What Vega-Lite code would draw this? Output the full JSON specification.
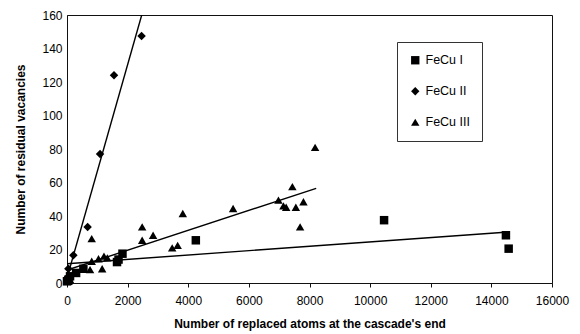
{
  "$schema": "https://vega.github.io/schema/vega-lite/v6.json",
  "width": 485,
  "height": 268,
  "autosize": {"type": "none"},
  "padding": {"left": 67, "top": 15, "right": 28, "bottom": 51},
  "background": "white",
  "config": {
    "font": "Liberation Sans",
    "view": {"stroke": "#111", "strokeWidth": 1},
    "axis": {"grid": false, "domainColor": "#111", "tickColor": "#111", "labelColor": "#000", "titleColor": "#000", "labelFontSize": 12, "titleFontSize": 12, "titleFontWeight": "bold", "labelFont": "Liberation Sans", "titleFont": "Liberation Sans", "labelOverlap": false, "labelFlush": false}
  },
  "datasets": {
    "points": [
      {"x": 0, "y": 1, "series": "FeCu I"},
      {"x": 50, "y": 2, "series": "FeCu I"},
      {"x": 100, "y": 4, "series": "FeCu I"},
      {"x": 300, "y": 6, "series": "FeCu I"},
      {"x": 540, "y": 8.5, "series": "FeCu I"},
      {"x": 1650, "y": 12.5, "series": "FeCu I"},
      {"x": 1700, "y": 14, "series": "FeCu I"},
      {"x": 1830, "y": 17.5, "series": "FeCu I"},
      {"x": 4250, "y": 25.5, "series": "FeCu I"},
      {"x": 10460, "y": 37.5, "series": "FeCu I"},
      {"x": 14480, "y": 28.5, "series": "FeCu I"},
      {"x": 14570, "y": 20.5, "series": "FeCu I"},
      {"x": 0, "y": 3, "series": "FeCu II"},
      {"x": 45, "y": 8.5, "series": "FeCu II"},
      {"x": 210, "y": 16.5, "series": "FeCu II"},
      {"x": 680, "y": 33.5, "series": "FeCu II"},
      {"x": 1090, "y": 77, "series": "FeCu II"},
      {"x": 1550, "y": 124, "series": "FeCu II"},
      {"x": 2460, "y": 147.5, "series": "FeCu II"},
      {"x": 50, "y": 1, "series": "FeCu III"},
      {"x": 100, "y": 2, "series": "FeCu III"},
      {"x": 760, "y": 8, "series": "FeCu III"},
      {"x": 815, "y": 13, "series": "FeCu III"},
      {"x": 815, "y": 26.5, "series": "FeCu III"},
      {"x": 1040, "y": 14.5, "series": "FeCu III"},
      {"x": 1160, "y": 8.5, "series": "FeCu III"},
      {"x": 1220, "y": 16, "series": "FeCu III"},
      {"x": 1330, "y": 15, "series": "FeCu III"},
      {"x": 2480, "y": 25.5, "series": "FeCu III"},
      {"x": 2480, "y": 33.5, "series": "FeCu III"},
      {"x": 2840, "y": 28.5, "series": "FeCu III"},
      {"x": 3470, "y": 21, "series": "FeCu III"},
      {"x": 3650, "y": 22.5, "series": "FeCu III"},
      {"x": 3820, "y": 41.5, "series": "FeCu III"},
      {"x": 5480, "y": 44.5, "series": "FeCu III"},
      {"x": 6975, "y": 49.5, "series": "FeCu III"},
      {"x": 7140, "y": 46, "series": "FeCu III"},
      {"x": 7230, "y": 45.2, "series": "FeCu III"},
      {"x": 7435, "y": 57.5, "series": "FeCu III"},
      {"x": 7550, "y": 45.2, "series": "FeCu III"},
      {"x": 7690, "y": 33.5, "series": "FeCu III"},
      {"x": 7800, "y": 48.5, "series": "FeCu III"},
      {"x": 8185, "y": 81, "series": "FeCu III"}
    ],
    "trends": [
      {"x": 0, "y": 11.5, "series": "FeCu I"},
      {"x": 14450, "y": 30.3, "series": "FeCu I"},
      {"x": 0, "y": 3, "series": "FeCu II"},
      {"x": 2465, "y": 160, "series": "FeCu II"},
      {"x": 0, "y": 7.7, "series": "FeCu III"},
      {"x": 8220, "y": 56.5, "series": "FeCu III"}
    ]
  },
  "encoding": {
    "x": {
      "field": "x", "type": "quantitative",
      "scale": {"domain": [0, 16000], "nice": false},
      "axis": {"values": [0, 2000, 4000, 6000, 8000, 10000, 12000, 14000, 16000], "format": "d", "tickSize": 4, "labelPadding": 8, "labelOverlap": false, "title": "Number of replaced atoms at the cascade's end", "titleY": 40, "titleBaseline": "middle"}
    },
    "y": {
      "field": "y", "type": "quantitative",
      "scale": {"domain": [0, 160], "nice": false},
      "axis": {"values": [0, 20, 40, 60, 80, 100, 120, 140, 160], "tickCount": 9, "format": "d", "ticks": false, "labelPadding": 5, "labelOverlap": false, "title": "Number of residual vacancies", "titleX": -47, "titleBaseline": "middle"}
    }
  },
  "layer": [
    {
      "data": {"name": "trends"},
      "mark": {"type": "line", "color": "#000", "strokeWidth": 1.4, "clip": true},
      "encoding": {
        "detail": {"field": "series"}
      }
    },
    {
      "data": {"name": "points"},
      "mark": {"type": "point", "filled": true, "opacity": 1, "color": "#000", "size": 72},
      "encoding": {
        "shape": {
          "field": "series", "type": "nominal",
          "scale": {"domain": ["FeCu I", "FeCu II", "FeCu III"], "range": ["square", "diamond", "triangle-up"]},
          "legend": {"title": null, "orient": "none", "legendX": 330, "legendY": 27, "strokeColor": "#333", "fillColor": "white", "padding": 12, "rowPadding": 16, "labelFontSize": 12.5, "labelFont": "Liberation Sans", "labelColor": "#000", "symbolFillColor": "#000", "symbolStrokeColor": "#000", "symbolSize": 70, "labelOffset": 4}
        }
      }
    }
  ]
}
